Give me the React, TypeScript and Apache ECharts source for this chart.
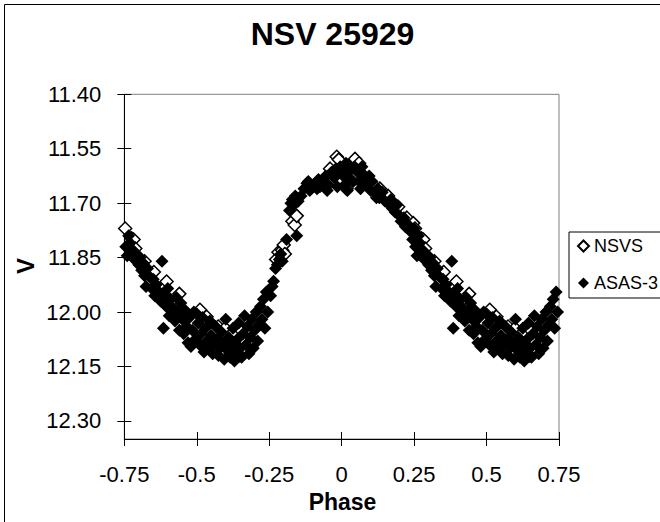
import React, { useEffect, useRef } from "react";
import * as echarts from "echarts";

const chartTitle = "NSV 25929";
const xAxisTitle = "Phase";
const yAxisTitle = "V";
const seriesNames = ["NSVS", "ASAS-3"];

const xMin = -0.75;
const xMax = 0.75;
const xStep = 0.25;
const yMin = 11.4;
const yMax = 12.35;
const yTicks = [11.4, 11.55, 11.7, 11.85, 12.0, 12.15, 12.3];

// NSVS (hollow diamonds): [phase, V]
const nsvsLeft: [number, number][] = [
  [-0.747, 11.77], [-0.725, 11.797], [-0.718, 11.8], [-0.712, 11.825], [-0.68, 11.86],
  [-0.648, 11.89], [-0.604, 11.916], [-0.56, 11.95], [-0.489, 11.994], [-0.466, 12.013],
  [-0.426, 12.04], [-0.402, 12.045], [-0.38, 12.06], [-0.351, 12.12], [-0.3, 12.03],
];
const nsvsMain: [number, number][] = [
  [-0.226, 11.855], [-0.218, 11.835], [-0.205, 11.83], [-0.2, 11.815], [-0.196, 11.84],
  [-0.17, 11.75], [-0.162, 11.76], [-0.155, 11.735], [-0.103, 11.655], [-0.04, 11.605],
  [-0.017, 11.572], [-0.01, 11.58], [0.003, 11.62], [0.017, 11.66], [0.025, 11.6],
  [0.046, 11.578], [0.06, 11.59], [0.09, 11.635], [0.132, 11.66], [0.16, 11.68],
  [0.195, 11.71], [0.225, 11.74], [0.247, 11.755], [0.253, 11.77], [0.275, 11.797],
  [0.282, 11.8], [0.288, 11.825], [0.32, 11.86], [0.352, 11.89], [0.396, 11.916],
  [0.44, 11.95], [0.511, 11.994], [0.534, 12.013], [0.574, 12.04], [0.598, 12.045],
  [0.62, 12.06], [0.649, 12.12], [0.7, 12.03],
];

// ASAS-3 (filled diamonds): [phase, V]
const asasLeft: [number, number][] = [
  [-0.745, 11.82], [-0.74, 11.845], [-0.735, 11.79], [-0.73, 11.81], [-0.72, 11.83],
  [-0.715, 11.855], [-0.71, 11.84], [-0.7, 11.87], [-0.695, 11.85], [-0.69, 11.885],
  [-0.685, 11.865], [-0.68, 11.9], [-0.675, 11.93], [-0.67, 11.88], [-0.66, 11.905],
  [-0.655, 11.935], [-0.65, 11.91], [-0.645, 11.955], [-0.64, 11.925], [-0.63, 11.945],
  [-0.625, 11.97], [-0.62, 11.86], [-0.615, 12.045], [-0.61, 11.95], [-0.605, 11.985],
  [-0.6, 11.935], [-0.595, 12.01], [-0.59, 11.965], [-0.58, 11.99], [-0.575, 12.025],
  [-0.57, 11.96], [-0.565, 12.0], [-0.56, 12.05], [-0.555, 11.975], [-0.55, 12.02],
  [-0.545, 12.06], [-0.54, 11.995], [-0.535, 12.04], [-0.53, 12.085], [-0.525, 12.015],
  [-0.52, 12.095], [-0.515, 12.05], [-0.51, 12.0], [-0.505, 12.075], [-0.5, 12.005],
  [-0.495, 12.03], [-0.49, 12.09], [-0.485, 12.06], [-0.48, 12.015], [-0.475, 12.11],
  [-0.47, 12.045], [-0.465, 12.08], [-0.46, 12.1], [-0.455, 12.025], [-0.45, 12.065],
  [-0.445, 12.115], [-0.44, 12.09], [-0.435, 12.04], [-0.43, 12.075], [-0.425, 12.12],
  [-0.42, 12.1], [-0.415, 12.055], [-0.41, 12.085], [-0.405, 12.13], [-0.4, 12.02],
  [-0.395, 12.105], [-0.39, 12.07], [-0.385, 12.125], [-0.38, 12.09], [-0.375, 12.045],
  [-0.37, 12.135], [-0.365, 12.11], [-0.36, 12.075], [-0.355, 12.03], [-0.35, 12.1],
  [-0.345, 12.125], [-0.34, 12.06], [-0.335, 12.01], [-0.33, 12.09], [-0.325, 12.04],
  [-0.32, 12.115], [-0.315, 12.07], [-0.31, 12.02], [-0.305, 12.1], [-0.3, 12.05],
  [-0.295, 12.0], [-0.29, 12.08], [-0.285, 12.035], [-0.28, 11.985], [-0.275, 12.02],
  [-0.27, 11.965], [-0.265, 12.045], [-0.26, 11.945], [-0.255, 12.0],
];
const asasMain: [number, number][] = [
  [-0.245, 11.955], [-0.24, 11.93], [-0.235, 11.915], [-0.228, 11.88], [-0.222, 11.87],
  [-0.215, 11.855], [-0.21, 11.84], [-0.205, 11.86], [-0.19, 11.8], [-0.18, 11.72],
  [-0.175, 11.7], [-0.17, 11.69], [-0.165, 11.705], [-0.16, 11.68], [-0.155, 11.79],
  [-0.15, 11.695], [-0.14, 11.68], [-0.13, 11.66], [-0.12, 11.645], [-0.115, 11.64],
  [-0.11, 11.665], [-0.105, 11.655], [-0.095, 11.65], [-0.085, 11.66], [-0.08, 11.635],
  [-0.075, 11.655], [-0.065, 11.64], [-0.055, 11.625], [-0.05, 11.665], [-0.045, 11.65],
  [-0.035, 11.615], [-0.025, 11.63], [-0.02, 11.605], [-0.015, 11.655], [-0.005, 11.6],
  [0.005, 11.62], [0.01, 11.65], [0.015, 11.59], [0.02, 11.665], [0.025, 11.63],
  [0.03, 11.61], [0.04, 11.64], [0.045, 11.6], [0.055, 11.615], [0.06, 11.64],
  [0.065, 11.66], [0.07, 11.6], [0.075, 11.62], [0.08, 11.645], [0.09, 11.65],
  [0.095, 11.625], [0.1, 11.665], [0.105, 11.64], [0.115, 11.67], [0.12, 11.685],
  [0.125, 11.66], [0.13, 11.685], [0.14, 11.67],
  [0.15, 11.695], [0.16, 11.7], [0.17, 11.69], [0.175, 11.715], [0.185, 11.725],
  [0.19, 11.705], [0.2, 11.735], [0.205, 11.75], [0.215, 11.74], [0.22, 11.765],
  [0.23, 11.76], [0.24, 11.78], [0.245, 11.8], [0.25, 11.77],
  [0.255, 11.82], [0.26, 11.845], [0.265, 11.79], [0.27, 11.81], [0.28, 11.83],
  [0.285, 11.855], [0.29, 11.84], [0.3, 11.87], [0.305, 11.85], [0.31, 11.885],
  [0.315, 11.865], [0.32, 11.9], [0.325, 11.93], [0.33, 11.88], [0.34, 11.905],
  [0.345, 11.935], [0.35, 11.91], [0.355, 11.955], [0.36, 11.925], [0.37, 11.945],
  [0.375, 11.97], [0.38, 11.86], [0.385, 12.045], [0.39, 11.95], [0.395, 11.985],
  [0.4, 11.935], [0.405, 12.01], [0.41, 11.965], [0.42, 11.99], [0.425, 12.025],
  [0.43, 11.96], [0.435, 12.0], [0.44, 12.05], [0.445, 11.975], [0.45, 12.02],
  [0.455, 12.06], [0.46, 11.995], [0.465, 12.04], [0.47, 12.085], [0.475, 12.015],
  [0.48, 12.095], [0.485, 12.05], [0.49, 12.0], [0.495, 12.075], [0.5, 12.005],
  [0.505, 12.03], [0.51, 12.09], [0.515, 12.06], [0.52, 12.015], [0.525, 12.11],
  [0.53, 12.045], [0.535, 12.08], [0.54, 12.1], [0.545, 12.025], [0.55, 12.065],
  [0.555, 12.115], [0.56, 12.09], [0.565, 12.04], [0.57, 12.075], [0.575, 12.12],
  [0.58, 12.1], [0.585, 12.055], [0.59, 12.085], [0.595, 12.13], [0.6, 12.02],
  [0.605, 12.105], [0.61, 12.07], [0.615, 12.125], [0.62, 12.09], [0.625, 12.045],
  [0.63, 12.135], [0.635, 12.11], [0.64, 12.075], [0.645, 12.03], [0.65, 12.1],
  [0.655, 12.125], [0.66, 12.06], [0.665, 12.01], [0.67, 12.09], [0.675, 12.04],
  [0.68, 12.115], [0.685, 12.07], [0.69, 12.02], [0.695, 12.1], [0.7, 12.05],
  [0.705, 12.0], [0.71, 12.08], [0.715, 12.035], [0.72, 11.985], [0.725, 12.02],
  [0.73, 11.965], [0.735, 12.045], [0.74, 11.945], [0.745, 12.0],
];

const FONT = "'Liberation Sans', Arial, Helvetica, sans-serif";

export default function App() {
  const ref = useRef<HTMLDivElement>(null);

  useEffect(() => {
    if (!ref.current) return;
    const chart = echarts.init(ref.current, undefined, { renderer: "svg" });

    const baseX = {
      type: "value" as const,
      min: xMin,
      max: xMax,
      interval: xStep,
      position: "bottom" as const,
      splitLine: { show: false },
    };
    const baseY = {
      type: "value" as const,
      min: yMin,
      max: yMax,
      inverse: true,
      position: "left" as const,
      splitLine: { show: false },
    };

    chart.setOption({
      animation: false,
      backgroundColor: "#ffffff",
      textStyle: { fontFamily: FONT },
      grid: {
        left: 124.3,
        top: 94.3,
        right: 660 - 559,
        bottom: 522 - 439,
        show: true,
        borderColor: "#808080",
        borderWidth: 1,
        backgroundColor: "transparent",
      },
      xAxis: [
        {
          ...baseX,
          axisLine: { show: true, onZero: false, lineStyle: { color: "#000", width: 1 } },
          axisTick: { show: true, inside: false, length: 7, lineStyle: { color: "#000" } },
          axisLabel: { show: true, margin: 24, fontSize: 22, color: "#000", fontFamily: FONT },
        },
        {
          ...baseX,
          axisLine: { show: false, onZero: false },
          axisTick: { show: true, inside: true, length: 7, lineStyle: { color: "#000" } },
          axisLabel: { show: false },
        },
      ],
      yAxis: [
        {
          ...baseY,
          axisLine: { show: true, onZero: false, lineStyle: { color: "#000", width: 1 } },
          axisTick: { show: true, inside: false, length: 7, customValues: yTicks, lineStyle: { color: "#000" } },
          axisLabel: {
            show: true,
            margin: 23,
            fontSize: 22,
            color: "#000",
            fontFamily: FONT,
            customValues: yTicks,
            formatter: (v: number) => v.toFixed(2),
          },
        },
        {
          ...baseY,
          axisLine: { show: false, onZero: false },
          axisTick: { show: true, inside: true, length: 7, customValues: yTicks, lineStyle: { color: "#000" } },
          axisLabel: { show: false },
        },
      ],
      legend: {
        orient: "vertical",
        left: 569,
        top: 232,
        padding: [5, 40, 6, 8],
        itemGap: 19,
        itemWidth: 11,
        itemHeight: 11,
        borderColor: "#000",
        borderWidth: 1,
        backgroundColor: "#fff",
        textStyle: { fontSize: 18, color: "#000", fontFamily: FONT, lineHeight: 18 },
        data: [
          { name: seriesNames[0], icon: "diamond" },
          { name: seriesNames[1], icon: "diamond" },
        ],
      },
      graphic: [
        {
          type: "rect",
          shape: { x: 4.5, y: 4.5, width: 700, height: 600 },
          style: { fill: "none", stroke: "#000", lineWidth: 1 },
          silent: true,
          z: 100,
        },
        {
          type: "text",
          x: 332.5,
          y: 34,
          style: {
            text: chartTitle,
            fontSize: 32,
            fontWeight: "bold",
            fontFamily: FONT,
            fill: "#000",
            textAlign: "center",
            textVerticalAlign: "middle",
          },
        },
        {
          type: "text",
          x: 342.5,
          y: 502,
          style: {
            text: xAxisTitle,
            fontSize: 23,
            fontWeight: "bold",
            fontFamily: FONT,
            fill: "#000",
            textAlign: "center",
            textVerticalAlign: "middle",
          },
        },
        {
          type: "text",
          x: 25,
          y: 266,
          rotation: Math.PI / 2,
          style: {
            text: yAxisTitle,
            fontSize: 24,
            fontWeight: "bold",
            fontFamily: FONT,
            fill: "#000",
            textAlign: "center",
            textVerticalAlign: "middle",
          },
        },
      ],
      series: [
        {
          name: seriesNames[0],
          type: "scatter",
          xAxisIndex: 0,
          yAxisIndex: 0,
          symbol: "diamond",
          symbolSize: 13,
          clip: false,
          itemStyle: { color: "#ffffff", borderColor: "#000000", borderWidth: 1.5, opacity: 1 },
          data: [...nsvsLeft, ...nsvsMain],
          z: 2,
        },
        {
          name: seriesNames[1],
          type: "scatter",
          xAxisIndex: 0,
          yAxisIndex: 0,
          symbol: "diamond",
          symbolSize: 13,
          clip: false,
          itemStyle: { color: "#000000", opacity: 1 },
          data: [...asasLeft, ...asasMain],
          z: 3,
        },
      ],
    });

    return () => chart.dispose();
  }, []);

  return (
    <div
      ref={ref}
      style={{ position: "absolute", left: 0, top: 0, width: 660, height: 522 }}
    />
  );
}
